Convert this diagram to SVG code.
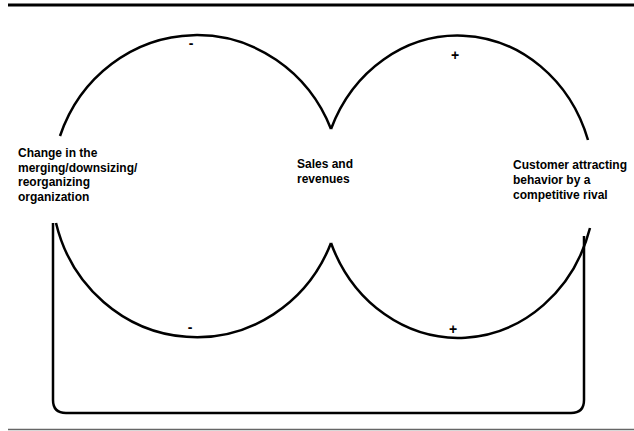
<svg xmlns="http://www.w3.org/2000/svg" width="634" height="431" viewBox="0 0 634 431">
<style>
.arc{fill:none;stroke:#000;stroke-width:2.5}
.lbl{font-family:"Liberation Sans",Arial,sans-serif;font-weight:bold;font-size:12px;fill:#000}
.sgn{font-family:"Liberation Sans",Arial,sans-serif;font-weight:bold;font-size:14px;fill:#000;text-anchor:middle}
</style>
<rect width="634" height="431" fill="#fff"/>
<line x1="8" y1="5" x2="634" y2="5" stroke="#000" stroke-width="3"/>
<line x1="8" y1="429.5" x2="634" y2="429.5" stroke="#666" stroke-width="1.5"/>
<g id="connectors">
<path class="arc" d="M 60 136 A 145 151 0 0 1 331 129"/>
<path class="arc" d="M 331 243 A 145 151 0 0 1 56 223"/>
<path class="arc" d="M 331 129 A 137 151 0 0 1 588 140"/>
<path class="arc" d="M 590 228 A 137 151 0 0 1 331 243"/>
<path class="arc" d="M 53 223 L 53 400 Q 53 413 66 413 L 571 413 Q 584 413 584 400 L 584 236"/>
<text class="sgn" x="191" y="48">-</text>
<text class="sgn" x="455" y="60">+</text>
<text class="sgn" x="190" y="332">-</text>
<text class="sgn" x="453" y="334">+</text>
</g>
<g id="node-change">
<text class="lbl" x="18" y="157">Change in the</text>
<text class="lbl" x="18" y="172">merging/downsizing/</text>
<text class="lbl" x="18" y="186">reorganizing</text>
<text class="lbl" x="18" y="201">organization</text>
</g>
<g id="node-sales">
<text class="lbl" x="297" y="168">Sales and</text>
<text class="lbl" x="297" y="183">revenues</text>
</g>
<g id="node-customer">
<text class="lbl" x="513" y="169">Customer attracting</text>
<text class="lbl" x="513" y="184">behavior by a</text>
<text class="lbl" x="513" y="199">competitive rival</text>
</g>
</svg>
